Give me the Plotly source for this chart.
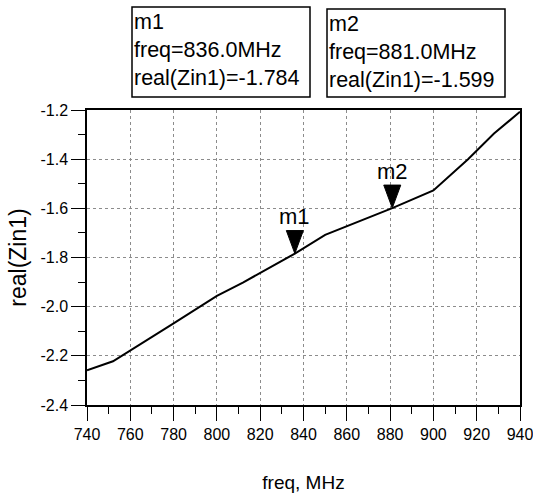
import plotly.graph_objects as go

# ---- data ----
freq_mhz = [740, 752, 780, 800, 812, 836, 850, 881, 900, 916, 928, 940]
real_zin1 = [-2.259, -2.222, -2.068, -1.956, -1.902, -1.784, -1.708, -1.599, -1.527, -1.400, -1.296, -1.207]

marker_names = ["m1", "m2"]
marker_freq = [836.0, 881.0]
marker_val = [-1.784, -1.599]

x_tick_vals = [740, 760, 780, 800, 820, 840, 860, 880, 900, 920, 940]
x_tick_text = ["740", "760", "780", "800", "820", "840", "860", "880", "900", "920", "940"]
y_tick_vals = [-2.4, -2.2, -2.0, -1.8, -1.6, -1.4, -1.2]
y_tick_text = ["-2.4", "-2.2", "-2.0", "-1.8", "-1.6", "-1.4", "-1.2"]

# ---- styling ----
FONT = "Liberation Sans, Arial, sans-serif"

W, H = 533, 496
ML, MR, MT, MB = 87, 13, 110, 91
PW, PH = W - ML - MR, H - MT - MB


def px2paper_x(px):
    return (px - ML) / PW


def px2paper_y(py):
    return (H - MB - py) / PH


fig = go.Figure()
fig.add_trace(go.Scatter(
    x=freq_mhz, y=real_zin1, mode="lines",
    line=dict(color="black", width=2), showlegend=False, hoverinfo="skip"))

shapes = []
annotations = []

# marker triangles and labels
for name, f, v in zip(marker_names, marker_freq, marker_val):
    shapes.append(dict(
        type="path", xref="x", yref="y", xsizemode="pixel", ysizemode="pixel",
        xanchor=f, yanchor=v, path="M-8.5,23 L8.5,23 L0,0 Z",
        fillcolor="black", line=dict(color="black", width=1)))
    annotations.append(dict(
        x=f, y=v, xref="x", yref="y", text=name, showarrow=False,
        yshift=37, font=dict(family=FONT, size=22, color="black")))

# readout boxes
box_px = [(132, 310, 7, 97), (327, 505, 9, 97)]
for (x0, x1, y0, y1), name, f, v in zip(box_px, marker_names, marker_freq, marker_val):
    shapes.append(dict(
        type="rect", xref="paper", yref="paper",
        x0=px2paper_x(x0), x1=px2paper_x(x1), y0=px2paper_y(y1), y1=px2paper_y(y0),
        line=dict(color="black", width=1.5), fillcolor="white", layer="above"))
    annotations.append(dict(
        x=px2paper_x(x0 + 1), y=px2paper_y(y0 + 2), xref="paper", yref="paper",
        xanchor="left", yanchor="top", align="left", showarrow=False,
        borderpad=0,
        text=f"{name}<br>freq={f:.1f}MHz<br>real(Zin1)={v:.3f}",
        font=dict(family=FONT, size=21.5, color="black")))

axis_common = dict(
    showline=True, linecolor="black", linewidth=1.5, mirror=True,
    ticks="outside", tickcolor="black", ticklen=14, tickwidth=1.2,
    showgrid=True, gridcolor="#8c8c8c", griddash="dot", gridwidth=1,
    zeroline=False, tickfont=dict(family=FONT, size=16, color="black"),
    ticklabeloverflow="allow", automargin=False,
)

fig.update_layout(
    template="none",
    width=W, height=H,
    margin=dict(l=ML, r=MR, t=MT, b=MB, autoexpand=False),
    paper_bgcolor="white", plot_bgcolor="white",
    shapes=shapes, annotations=annotations,
    xaxis=dict(range=[740, 940], tickvals=x_tick_vals, ticktext=x_tick_text,
               minor=dict(dtick=10, ticklen=7, tickcolor="black", ticks="outside", showgrid=False),
               title=dict(text="freq, MHz", font=dict(family=FONT, size=19, color="black"), standoff=34),
               **axis_common),
    yaxis=dict(range=[-2.4, -1.2], tickvals=y_tick_vals, ticktext=y_tick_text,
               minor=dict(dtick=0.1, ticklen=7, tickcolor="black", ticks="outside", showgrid=False),
               title=dict(text="real(Zin1)", font=dict(family=FONT, size=23, color="black"), standoff=7),
               **axis_common),
)

fig.write_html(
    "out.html",
    config={"displayModeBar": False},
    post_script="document.body.style.margin='0';document.body.style.overflow='hidden';",
)
